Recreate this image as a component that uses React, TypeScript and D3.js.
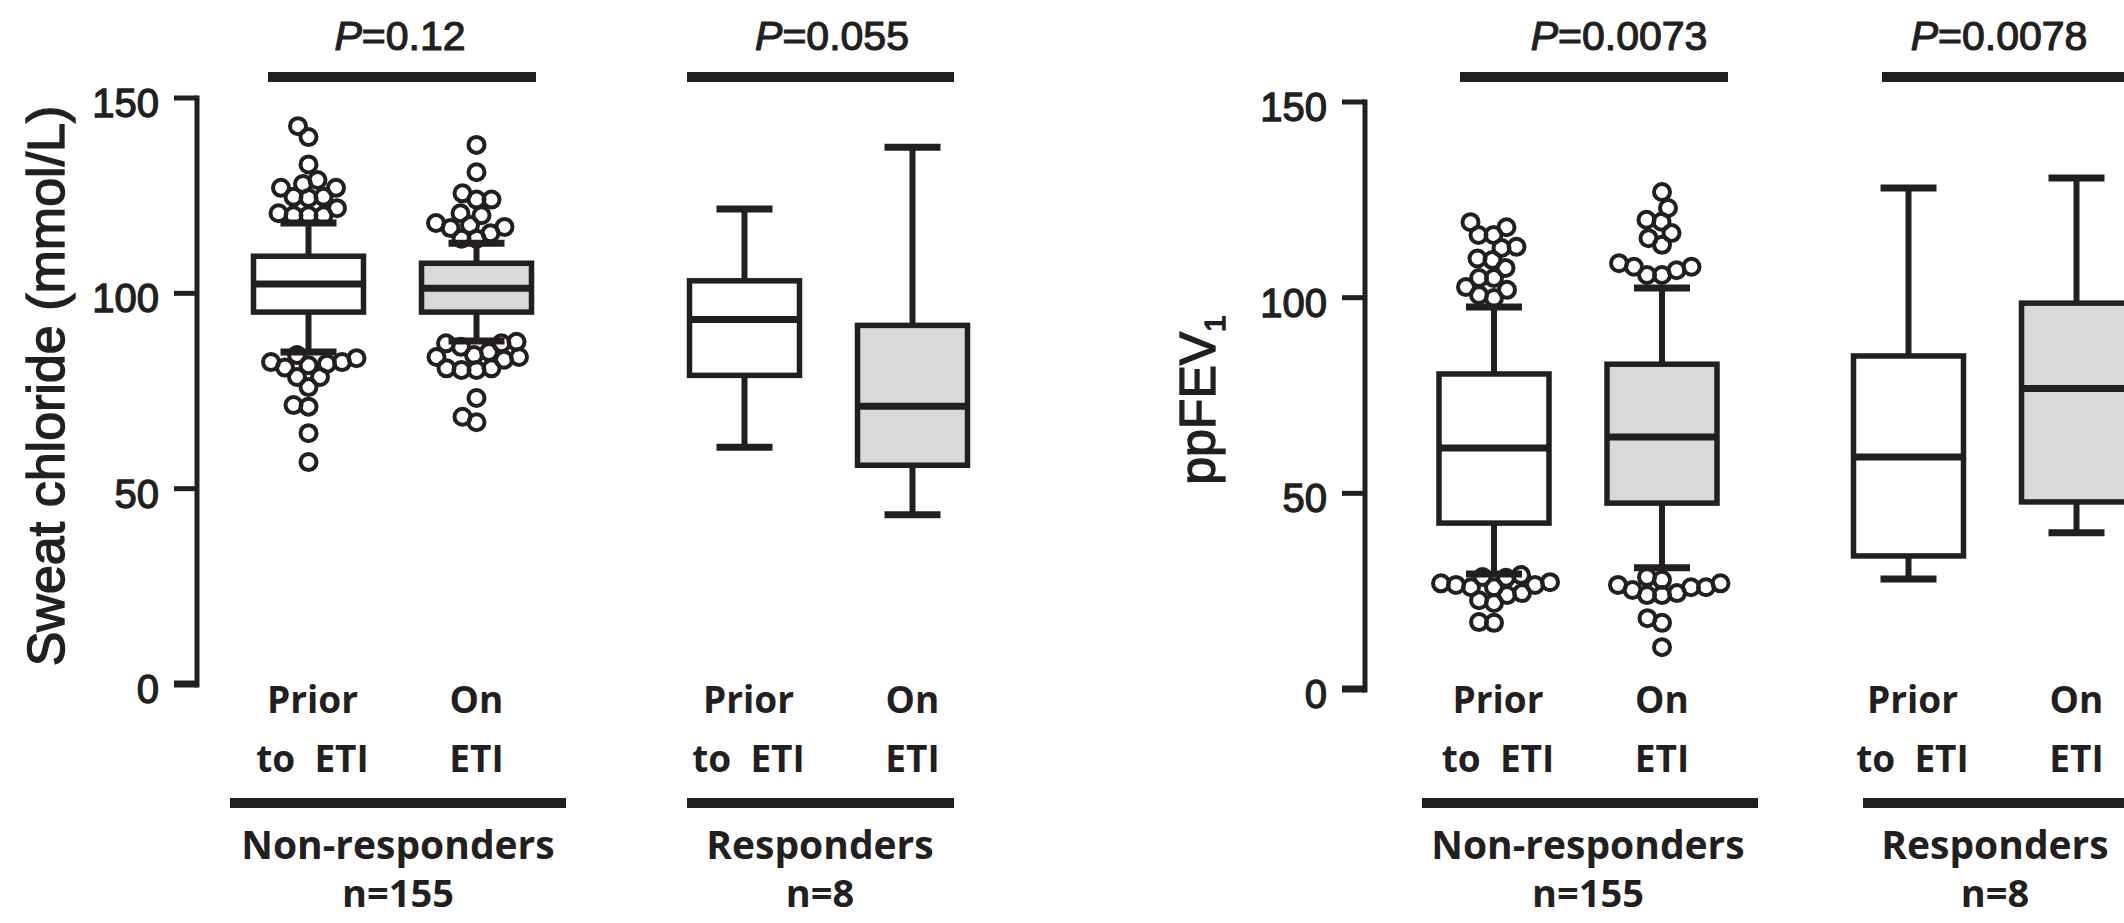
import React from "react";
import * as d3 from "d3";

// ---------- data ----------
const groups = ["Non-responders", "Responders"];
const groupN = ["n=155", "n=8"];
const conditions = ["Prior to ETI", "On ETI"];
const conditionLines = [["Prior", "to  ETI"], ["On", "ETI"]];
const yTicks = [0, 50, 100, 150];
const panelTitles = ["Sweat chloride (mmol/L)", "ppFEV"];
const panelTitleSub = ["", "1"];

// box stats: [whiskerLow, q1, median, q3, whiskerHigh]
const sweatNonResp = [
  [85, 95.2, 102.4, 109.5, 118],
  [87.8, 95.2, 101.3, 107.7, 112.8],
];
const sweatResp = [
  [60.6, 79, 93.3, 103.2, 121.6],
  [43.3, 56, 71.1, 91.8, 137.4],
];
const fevNonResp = [
  [29.4, 42.4, 61.6, 80.5, 97.6],
  [31, 47.5, 64.4, 83, 102.5],
];
const fevResp = [
  [28.1, 34, 59.3, 85.1, 128],
  [39.9, 47.8, 76.8, 98.6, 130.6],
];

const sweatPriorOutliers = [142.8, 140, 133, 129, 128, 127, 127, 124.7, 124.4, 124.7, 121.8, 120.5, 120, 120, 120,
  84.2, 83.4, 82.4, 82.4, 82, 81.6, 81, 78.6, 78.6, 76, 71.4, 71, 64.2, 56.8];
const sweatOnOutliers = [138, 131, 125.6, 124, 124, 120.5, 120, 118, 117.5, 117, 116.7, 115.4, 114, 114,
  87.6, 87.2, 87.2, 86.3, 85, 84.2, 83.7, 83.7, 83, 80.8, 80.8, 80.4, 80.4, 73.2, 68.4, 67];
const fevPriorOutliers = [119.3, 118, 116, 116, 113, 112.7, 110, 109.6, 107.6, 105, 105, 102.7, 102, 100.7, 99.9,
  29.1, 28.6, 28.4, 27.3, 27, 26.6, 26.6, 26, 26, 24.5, 24, 22.7, 22, 17.1, 16.9];
const fevOnOutliers = [127, 122.9, 119.9, 119.4, 116.5, 115.2, 113.5, 108.8, 107.9, 107.9, 107, 105.8, 105.8,
  28.6, 27.9, 27, 26.6, 26, 26, 25.3, 24.5, 24, 24, 18.1, 16.9, 10.7];

const sweatP = ["0.12", "0.055"];
const fevP = ["0.0073", "0.0078"];

// ---------- layout / style ----------
const INK = "#231f20";
const GRAY = "#d8d9db";
const NUM_FONT = "'Liberation Sans', Arial, sans-serif";
const LBL_FONT = "'Open Sans', 'Noto Sans', sans-serif";

const panels = [
  {
    title: panelTitles[0], sub: panelTitleSub[0],
    stats: [sweatNonResp, sweatResp], outliers: [sweatPriorOutliers, sweatOnOutliers], p: sweatP,
    axisX: 197, yRange: [684, 98], groupRange: [392.5, 828.5],
    sigBars: [[268, 536], [687, 954]], pTextX: [400, 832],
    groupBars: [[230, 566], [687, 954]], groupLabelX: [398, 820],
    titleX: 64, titleY: 386, titleSize: 52,
  },
  {
    title: panelTitles[1], sub: panelTitleSub[1],
    stats: [fevNonResp, fevResp], outliers: [fevPriorOutliers, fevOnOutliers], p: fevP,
    axisX: 1365, yRange: [689, 102], groupRange: [1578, 1992.5],
    sigBars: [[1460, 1728], [1882, 2170]], pTextX: [1619, 1999],
    groupBars: [[1422, 1758], [1863, 2170]], groupLabelX: [1588, 1995],
    titleX: 1215, titleY: 400, titleSize: 50,
  },
];

const BOX_W = 110;
const CAP_W = 56;
const R = 8;

function dodge(values: number[], y: (v: number) => number, minDist: number) {
  const placed: { x: number; y: number; v: number }[] = [];
  const ordered = [...values].sort((a, b) => a - b);
  for (const v of ordered) {
    const py = y(v);
    let off = 0;
    for (let k = 0; k < 600; k++) {
      const cand = (k % 2 === 0 ? 1 : -1) * Math.ceil(k / 2) * 0.5;
      if (placed.every((q) => Math.hypot(q.x - cand, q.y - py) >= minDist)) {
        off = cand;
        break;
      }
    }
    placed.push({ x: off, y: py, v });
  }
  return placed;
}

function Panel({ cfg }: { cfg: any }) {
  const y = d3.scaleLinear().domain([0, 150]).range(cfg.yRange);
  const gx = d3.scalePoint().domain(groups).range(cfg.groupRange);
  const inner = d3.scalePoint().domain(conditions).range([-84, 84]);

  return (
    <g>
      {/* y axis */}
      <line x1={cfg.axisX} x2={cfg.axisX} y1={y(150) - 2.5} y2={y(0) + 3.5} stroke={INK} strokeWidth={5} />
      {yTicks.map((t) => (
        <g key={t}>
          <line x1={cfg.axisX - 23} x2={cfg.axisX} y1={y(t)} y2={y(t)} stroke={INK} strokeWidth={t === 0 ? 7 : 5} />
          <text x={cfg.axisX - 38} y={y(t) + 5} textAnchor="end" dominantBaseline="central"
            fontFamily={NUM_FONT} fontSize={40} fill={INK} stroke={INK} strokeWidth={1.3}>{t}</text>
        </g>
      ))}
      <text transform={`translate(${cfg.titleX},${cfg.titleY}) rotate(-90)`} textAnchor="middle"
        fontFamily={NUM_FONT} fontSize={cfg.titleSize} fill={INK} stroke={INK} strokeWidth={1.4}>
        {cfg.title}
        {cfg.sub ? <tspan fontSize={cfg.titleSize * 0.6} dy={cfg.titleSize * 0.2}>{cfg.sub}</tspan> : null}
      </text>

      {groups.map((g, gi) => {
        const cx0 = gx(g) as number;
        return (
          <g key={g}>
            {/* significance bar and p-value */}
            <line x1={cfg.sigBars[gi][0]} x2={cfg.sigBars[gi][1]} y1={77} y2={77} stroke={INK} strokeWidth={10} />
            <text x={cfg.pTextX[gi]} y={50} textAnchor="middle" fontFamily={NUM_FONT} fontSize={41} fill={INK}
              stroke={INK} strokeWidth={1.2}>
              <tspan fontStyle="italic">P</tspan>={cfg.p[gi]}
            </text>
            {conditions.map((c, ci) => {
              const s = cfg.stats[gi][ci];
              const cx = cx0 + (inner(c) as number);
              const outs = gi === 0 ? dodge(cfg.outliers[ci], y, 15) : [];
              return (
                <g key={c}>
                  <line x1={cx} x2={cx} y1={y(s[4])} y2={y(s[3])} stroke={INK} strokeWidth={6} />
                  <line x1={cx} x2={cx} y1={y(s[1])} y2={y(s[0])} stroke={INK} strokeWidth={6} />
                  <line x1={cx - CAP_W / 2} x2={cx + CAP_W / 2} y1={y(s[4])} y2={y(s[4])} stroke={INK} strokeWidth={7} />
                  <line x1={cx - CAP_W / 2} x2={cx + CAP_W / 2} y1={y(s[0])} y2={y(s[0])} stroke={INK} strokeWidth={7} />
                  <rect x={cx - BOX_W / 2} width={BOX_W} y={y(s[3])} height={y(s[1]) - y(s[3])}
                    fill={ci === 0 ? "#ffffff" : GRAY} stroke={INK} strokeWidth={5.5} />
                  <line x1={cx - BOX_W / 2} x2={cx + BOX_W / 2} y1={y(s[2])} y2={y(s[2])} stroke={INK} strokeWidth={7} />
                  {outs.map((o, oi) => (
                    <circle key={oi} cx={cx + o.x} cy={o.y} r={R} fill="none" stroke={INK} strokeWidth={4} />
                  ))}
                  {conditionLines[ci].map((line, li) => (
                    <text key={li} x={cx + (ci === 0 ? 4 : 0)} y={713 + li * 59} textAnchor="middle"
                      fontFamily={LBL_FONT} fontWeight={700} fontSize={37} fill={INK}
                      style={{ whiteSpace: "pre" }}>{line}</text>
                  ))}
                </g>
              );
            })}
            {/* group bar and label */}
            <line x1={cfg.groupBars[gi][0]} x2={cfg.groupBars[gi][1]} y1={803} y2={803} stroke={INK} strokeWidth={10} />
            <text x={cfg.groupLabelX[gi]} y={859} textAnchor="middle" fontFamily={LBL_FONT} fontWeight={700}
              fontSize={39} fill={INK}>{g}</text>
            <text x={cfg.groupLabelX[gi]} y={907} textAnchor="middle" fontFamily={LBL_FONT} fontWeight={700}
              fontSize={38} fill={INK}>{groupN[gi]}</text>
          </g>
        );
      })}
    </g>
  );
}

export default function App() {
  return (
    <svg width={2124} height={923} viewBox="0 0 2124 923"
      style={{ position: "absolute", left: 0, top: 0, background: "#ffffff" }}>
      <rect x={0} y={0} width={2124} height={923} fill="#ffffff" />
      {panels.map((p, i) => (
        <Panel key={i} cfg={p} />
      ))}
    </svg>
  );
}
